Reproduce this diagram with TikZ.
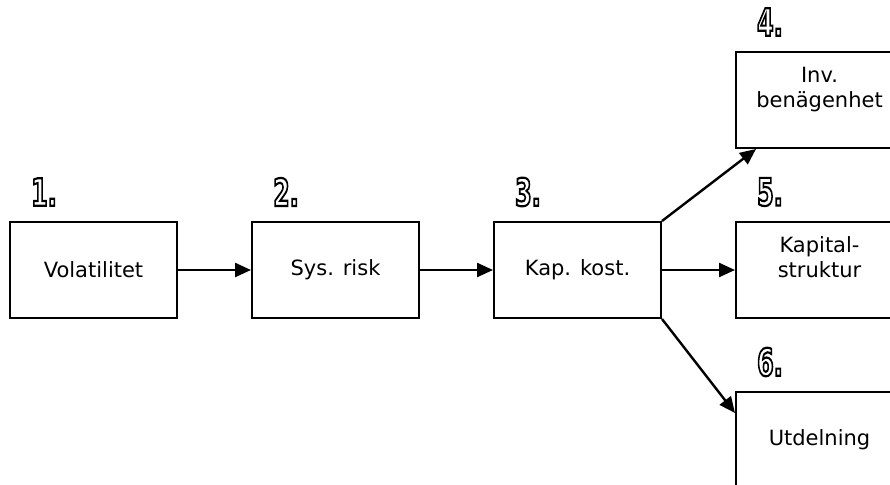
\documentclass[tikz,border=0pt]{standalone}
\usepackage{fontspec}
\setmainfont{DejaVu Sans}
\newfontfamily\numfont{DejaVu Sans Condensed}
\newcommand\hollow[1]{\special{pdf:literal direct 1 Tr 2.2 w}#1\special{pdf:literal direct 0 Tr}}
\usetikzlibrary{arrows.meta,positioning}

\begin{document}
\begin{tikzpicture}[x=1pt, y=-1pt, node distance = 73pt, font=\fontsize{21}{25}\selectfont,
  box/.style={rectangle, draw, line width=2pt, minimum width=167pt, minimum height=96pt, inner sep=0pt, align=center},
  flow/.style={line width=2.4pt, -{Triangle[length=16pt,width=14pt]}},
  num/.style={font=\numfont\bfseries\fontsize{38}{38}\selectfont, xscale=0.7, inner sep=0pt}]
  \useasboundingbox (0,0) rectangle (890,484);
  \node[box] (vol) at (93.5,270) {Volatilitet};
  \node[box, right=of vol] (sys) {Sys. risk};
  \node[box, right=of sys] (kap) {Kap. kost.};
  \node[box, right=of kap] (kapstr) {Kapital-\\struktur\\\mbox{}};
  \node[box, above=72pt of kapstr] (inv) {Inv.\\benägenhet\\\mbox{}};
  \node[box, below=72pt of kapstr] (utd) {Utdelning};
  % numbers above the boxes
  \node[num] at ([xshift=35pt,yshift=29pt]vol.north west) {\hollow{1.}};
  \node[num] at ([xshift=35pt,yshift=29pt]sys.north west) {\hollow{2.}};
  \node[num] at ([xshift=35pt,yshift=29pt]kap.north west) {\hollow{3.}};
  \node[num] at ([xshift=35pt,yshift=29pt]inv.north west) {\hollow{4.}};
  \node[num] at ([xshift=35pt,yshift=29pt]kapstr.north west) {\hollow{5.}};
  \node[num] at ([xshift=35pt,yshift=29pt]utd.north west) {\hollow{6.}};
  \draw[flow] (vol) -- (sys);
  \draw[flow] (sys) -- (kap);
  \draw[flow] (kap) -- (kapstr);
  \draw[flow] (kap.north east) -- ([xshift=21pt]inv.south west);
  \draw[flow] (kap.south east) -- ([yshift=-22pt]utd.north west);
\end{tikzpicture}
\end{document}
